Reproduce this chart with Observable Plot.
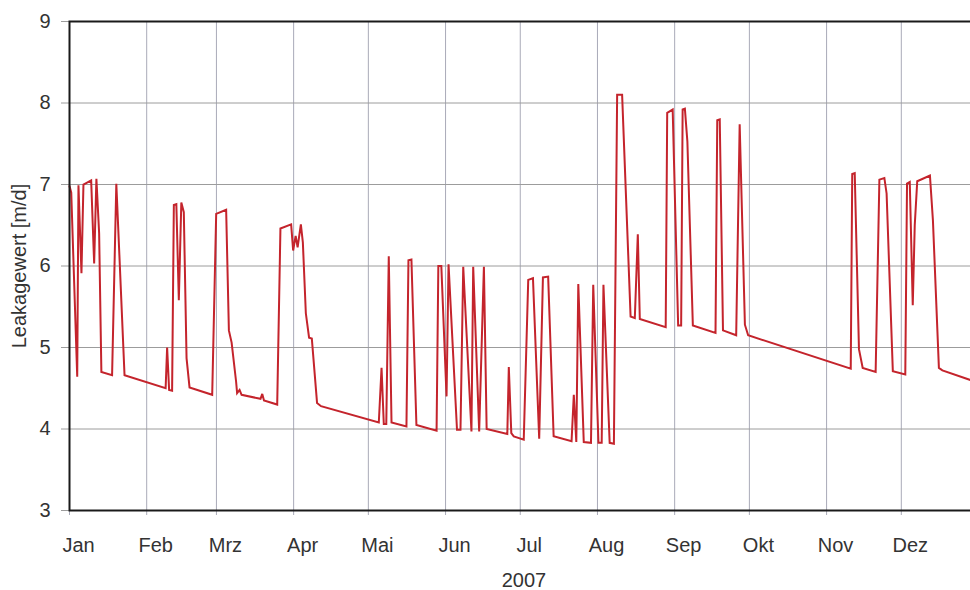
<!DOCTYPE html>
<html>
<head>
<meta charset="utf-8">
<script src="https://cdn.jsdelivr.net/npm/d3@7"></script>
<script src="https://cdn.jsdelivr.net/npm/@observablehq/plot@0.6"></script>
<style>
  html, body { margin: 0; padding: 0; background: #fff; }
  #chart { width: 970px; height: 590px; overflow: hidden; }
</style>
</head>
<body>
<div id="chart"></div>
<script>
// Month tick labels (German)
const monthLabels = ["Jan","Feb","Mrz","Apr","Mai","Jun","Jul","Aug","Sep","Okt","Nov","Dez"];
const yTicks = [3, 4, 5, 6, 7, 8, 9];
const yearLabel = "2007";
const yLabel = "Leakagewert [m/d]";

// Time in days since 1 Jan 2007 00:00 (fractional)
const dayOfYear = [
  0, 0.7, 3.1, 3.6, 4.8, 5.6, 8.7, 9.9, 10.8, 11.9, 12.8, 17.1, 18.8, 22.1,
  38.6, 39.2, 40.0, 41.2, 41.9, 42.9, 43.9, 44.9, 45.9, 47.0, 48.2,
  57.3, 58.9, 62.9, 64.0, 65.1, 66.9, 67.3, 68.3, 69.1, 76.7, 77.4, 78.1, 83.4,
  84.7, 89.0, 89.8, 90.8, 91.6, 92.9, 93.7, 94.9, 96.2, 97.3, 99.4, 101.0,
  124.2, 125.3, 126.2, 127.2, 128.2, 129.3, 135.3, 136.1, 137.3, 139.3,
  147.4, 148.1, 149.3, 151.4, 152.2, 155.6, 157.0, 158.1, 161.4, 162.1, 164.5, 166.4, 167.5,
  175.8, 176.4, 177.4, 178.4, 182.4, 184.2, 186.1, 188.6, 190.1, 192.2, 194.4,
  201.6, 202.5, 203.5, 204.3, 206.5, 209.4, 210.3, 212.4, 213.7, 214.4, 216.9, 218.6,
  219.9, 221.9, 225.3, 227.0, 228.2, 229.0, 239.4, 240.0, 242.2, 244.4, 245.6,
  246.2, 247.1, 248.1, 250.3, 259.4, 260.1, 261.1, 262.4, 267.7, 269.1, 271.2, 272.5,
  313.7, 314.3, 315.3, 317.0, 318.5, 323.7, 325.2, 327.2, 328.1, 330.6,
  335.6, 336.3, 337.4, 338.6, 339.4, 340.4, 345.5, 346.7, 349.1, 350.5, 361.8, 365.0
];
const leakage = [
  6.98, 6.90, 4.64, 6.99, 5.91, 7.00, 7.05, 6.03, 7.07, 6.40, 4.70, 4.66, 7.01, 4.66,
  4.50, 5.00, 4.48, 4.47, 6.75, 6.76, 5.58, 6.78, 6.66, 4.87, 4.51,
  4.42, 6.64, 6.69, 5.21, 5.06, 4.58, 4.44, 4.48, 4.42, 4.37, 4.43, 4.35, 4.30,
  6.46, 6.51, 6.19, 6.37, 6.23, 6.51, 6.29, 5.42, 5.12, 5.11, 4.32, 4.28,
  4.08, 4.75, 4.06, 4.06, 6.12, 4.08, 4.03, 6.07, 6.08, 4.05,
  3.98, 6.00, 6.00, 4.40, 6.02, 3.99, 3.99, 5.99, 3.97, 5.99, 3.97, 5.99, 4.00,
  3.94, 4.76, 3.95, 3.91, 3.87, 5.83, 5.85, 3.88, 5.86, 5.87, 3.91,
  3.85, 4.42, 3.84, 5.78, 3.84, 3.83, 5.77, 3.83, 3.83, 5.77, 3.83, 3.82,
  8.10, 8.10, 5.38, 5.36, 6.39, 5.35, 5.25, 7.88, 7.92, 5.27, 5.27,
  7.92, 7.93, 7.53, 5.27, 5.18, 7.79, 7.80, 5.21, 5.15, 7.74, 5.28, 5.15,
  4.74, 7.13, 7.14, 4.98, 4.75, 4.70, 7.06, 7.08, 6.89, 4.71,
  4.67, 7.01, 7.03, 5.52, 6.50, 7.04, 7.11, 6.56, 4.75, 4.72, 4.60, 4.56
];

const t0 = Date.UTC(2007, 0, 1);
const data = dayOfYear.map((d, i) => ({date: new Date(t0 + d * 86400000), value: leakage[i]}));
const monthTicks = d3.utcMonths(new Date(Date.UTC(2007, 0, 1)), new Date(Date.UTC(2007, 11, 2)));

const gridColor = "#a9aab8";

const chart = Plot.plot({
  width: 970,
  height: 590,
  marginLeft: 69,
  marginRight: -8,
  marginTop: 21,
  marginBottom: 80,
  style: {fontFamily: "'Liberation Sans', Arial, Helvetica, sans-serif", fontSize: "20px", color: "#333", background: "#fff"},
  x: {type: "utc", domain: [new Date(Date.UTC(2007, 0, 1)), new Date(Date.UTC(2008, 0, 1))], label: null},
  y: {domain: [3, 9], label: null},
  marks: [
    Plot.gridX(monthTicks, {stroke: gridColor, strokeOpacity: 1, strokeWidth: 1}),
    Plot.gridY(yTicks, {stroke: "#9c9c9c", strokeOpacity: 1, strokeWidth: 1}),
    Plot.axisX(monthTicks, {tickSize: 5, stroke: gridColor, tickFormat: () => "", label: yearLabel, labelArrow: "none", labelAnchor: "center", labelOffset: 76, fontSize: 20}),
    Plot.axisX(monthTicks, {tickSize: 0, tickPadding: 27, tickFormat: d => monthLabels[d.getUTCMonth()], dx: 9, label: null, fontSize: 20}),
    Plot.axisY(yTicks, {tickSize: 8, tickPadding: 11, stroke: "#9c9c9c", tickFormat: d => String(d), label: yLabel, labelArrow: "none", labelAnchor: "center", labelOffset: 58, fontSize: 20}),
    Plot.line(data, {x: "date", y: "value", stroke: "#c4242c", strokeWidth: 2, strokeLinejoin: "miter", strokeMiterlimit: 3}),
    Plot.frame({stroke: "#1a1a1a", strokeWidth: 2})
  ]
});
document.getElementById("chart").appendChild(chart);
</script>
</body>
</html>
